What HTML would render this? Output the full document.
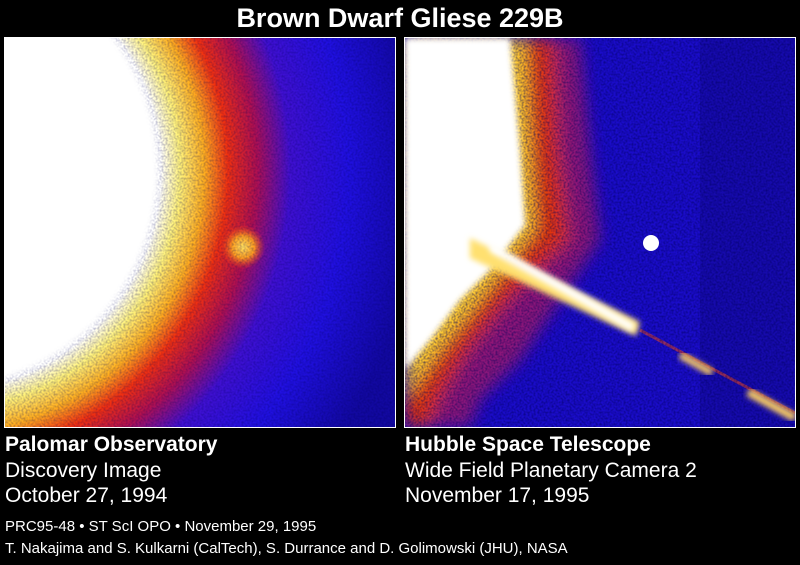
<!DOCTYPE html>
<html><head><meta charset="utf-8"><style>
html,body{margin:0;padding:0;background:#000;width:800px;height:565px;overflow:hidden;font-family:"Liberation Sans",sans-serif;color:#fff}
.t{position:absolute;white-space:nowrap}
</style></head><body>
<svg width="800" height="565" style="position:absolute;left:0;top:0">
<defs>
<radialGradient id="lg" gradientUnits="userSpaceOnUse" cx="-60" cy="170" r="480">
<stop offset="0" stop-color="#fff"/>
<stop offset="0.46" stop-color="#fff"/>
<stop offset="0.50" stop-color="#fff27a"/>
<stop offset="0.55" stop-color="#ffb020"/>
<stop offset="0.60" stop-color="#f03010"/>
<stop offset="0.66" stop-color="#b01050"/>
<stop offset="0.73" stop-color="#4010d0"/>
<stop offset="0.85" stop-color="#2010e0"/>
<stop offset="1" stop-color="#1208a0"/>
</radialGradient>
<radialGradient id="blob"><stop offset="0" stop-color="#ffe060"/><stop offset="0.5" stop-color="#ffa020"/><stop offset="1" stop-color="#ff4010" stop-opacity="0"/></radialGradient>
<filter id="bl"><feGaussianBlur stdDeviation="8"/></filter>
<filter id="bl2"><feGaussianBlur stdDeviation="3"/></filter>
<filter id="noise"><feTurbulence type="fractalNoise" baseFrequency="0.5" numOctaves="1" seed="3"/><feColorMatrix values="0 0 0 0 0  0 0 0 0 0  0 0 0 0 0.1  0 0 0 -1.4 0.9"/></filter>
<clipPath id="cr"><rect x="405" y="38" width="390" height="389"/></clipPath>
<clipPath id="cl"><rect x="5" y="38" width="390" height="389"/></clipPath>
</defs>
<!-- left panel -->
<rect x="4" y="37" width="392" height="391" fill="#fff"/>
<g clip-path="url(#cl)">
<rect x="5" y="38" width="390" height="389" fill="url(#lg)"/>
<circle cx="243" cy="247" r="22" fill="url(#blob)"/>
<rect x="5" y="38" width="390" height="389" filter="url(#noise)" opacity="0.45"/>
<circle cx="-60" cy="170" r="218" fill="#fff" filter="url(#bl2)"/>
</g>
<!-- right panel -->
<rect x="404" y="37" width="392" height="391" fill="#fff"/>
<g clip-path="url(#cr)">
<rect x="405" y="38" width="390" height="389" fill="#1a0cc8"/>
<rect x="700" y="38" width="95" height="389" fill="#110890" opacity="0.5"/>
<g filter="url(#bl)">
<path d="M405 38 L580 38 L590 150 L600 240 L560 300 L540 330 L520 360 L480 400 L470 427 L405 427Z" fill="#8a1878"/>
<path d="M405 38 L555 38 L560 150 L570 240 L510 300 L470 350 L440 400 L430 427 L405 427Z" fill="#e03010"/>
<path d="M405 38 L525 38 L530 150 L535 230 L480 300 L440 350 L405 400Z" fill="#ffd030"/>
</g>
<path d="M640 330 L795 413" stroke="#e04020" stroke-width="3" opacity="0.6"/>
<rect x="405" y="38" width="390" height="389" filter="url(#noise)" opacity="0.8"/>
<path d="M405 38 L510 38 L520 150 L525 225 L490 270 L460 300 L430 340 L405 370Z" fill="#fff" filter="url(#bl2)"/>
<path d="M470 238 L640 322 L636 336 L470 258Z" fill="#ffe070" filter="url(#bl2)"/>
<path d="M490 242 L635 324 L632 332 L490 252Z" fill="#fff" filter="url(#bl2)"/>
<path d="M680 355 L712 373" stroke="#ffd060" stroke-width="7" filter="url(#bl2)"/>
<path d="M748 392 L795 418" stroke="#ffd060" stroke-width="8" filter="url(#bl2)"/>
</g>
<circle cx="651" cy="243" r="8" fill="#fff"/>
</svg>
<div class="t" style="left:0;width:800px;text-align:center;top:3px;font-size:27px;font-weight:bold">Brown Dwarf Gliese 229B</div>
<div class="t" style="left:5px;top:433px;font-size:21px;font-weight:bold">Palomar Observatory</div>
<div class="t" style="left:5px;top:459px;font-size:21px">Discovery Image</div>
<div class="t" style="left:5px;top:484px;font-size:21px">October 27, 1994</div>
<div class="t" style="left:405px;top:433px;font-size:21px;font-weight:bold">Hubble Space Telescope</div>
<div class="t" style="left:405px;top:459px;font-size:21px">Wide Field Planetary Camera 2</div>
<div class="t" style="left:405px;top:484px;font-size:21px">November 17, 1995</div>
<div class="t" style="left:5px;top:518px;font-size:15px">PRC95-48 • ST ScI OPO • November 29, 1995</div>
<div class="t" style="left:5px;top:540px;font-size:15px">T. Nakajima and S. Kulkarni (CalTech), S. Durrance and D. Golimowski (JHU), NASA</div>
</body></html>
